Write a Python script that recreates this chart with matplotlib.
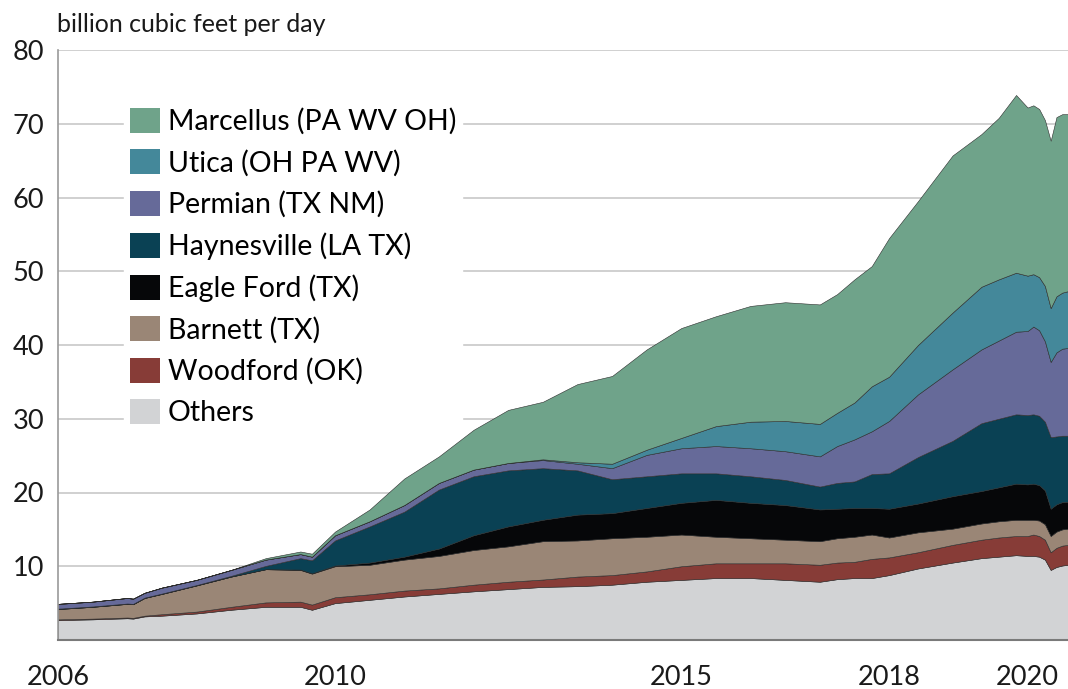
import matplotlib
matplotlib.use("Agg")
import matplotlib.pyplot as plt
import numpy as np

plt.rcParams['font.family'] = ['Lato', 'DejaVu Sans']

months = ['2006-01', '2006-07', '2007-01', '2007-02', '2007-04', '2007-07', '2008-01', '2008-07',
          '2009-01', '2009-07', '2009-09', '2010-01', '2010-07', '2011-01', '2011-07', '2012-01',
          '2012-07', '2013-01', '2013-07', '2014-01', '2014-07', '2015-01', '2015-07', '2016-01',
          '2016-07', '2017-01', '2017-04', '2017-07', '2017-10', '2018-01', '2018-06', '2018-12',
          '2019-05', '2019-08', '2019-11', '2020-01', '2020-02', '2020-03', '2020-04', '2020-05',
          '2020-06', '2020-07', '2020-08']

others =      [2.7, 2.8, 2.95, 2.9, 3.2, 3.3, 3.6, 4.1, 4.5, 4.5, 4.1, 5.0, 5.45, 5.9, 6.25, 6.6,
               6.9, 7.2, 7.3, 7.5, 7.9, 8.15, 8.4, 8.4, 8.15, 7.9, 8.25, 8.4, 8.4, 8.8, 9.7, 10.5,
               11.1, 11.3, 11.5, 11.4, 11.4, 11.3, 10.9, 9.5, 9.9, 10.1, 10.2]
woodford =    [0.1, 0.1, 0.1, 0.1, 0.1, 0.2, 0.25, 0.4, 0.6, 0.7, 0.7, 0.8, 0.75, 0.8, 0.75, 0.9,
               1.0, 1.0, 1.3, 1.3, 1.4, 1.85, 2.0, 2.0, 2.25, 2.3, 2.25, 2.2, 2.6, 2.4, 2.2, 2.4,
               2.5, 2.6, 2.6, 2.7, 2.9, 2.8, 2.7, 2.4, 2.6, 2.7, 2.7]
barnett =     [1.4, 1.6, 1.85, 1.85, 2.4, 2.75, 3.55, 4.1, 4.5, 4.3, 4.2, 4.2, 4.0, 4.2, 4.4, 4.7,
               4.8, 5.2, 4.9, 5.0, 4.7, 4.3, 3.6, 3.4, 3.2, 3.2, 3.3, 3.4, 3.3, 2.7, 2.7, 2.2,
               2.2, 2.2, 2.2, 2.2, 2.0, 2.1, 2.1, 2.2, 2.2, 2.2, 2.2]
eagle_ford =  [0.0, 0.0, 0.0, 0.0, 0.0, 0.0, 0.0, 0.0, 0.0, 0.05, 0.05, 0.1, 0.3, 0.4, 1.0, 2.0,
               2.7, 2.9, 3.5, 3.4, 3.9, 4.3, 5.0, 4.8, 4.7, 4.3, 4.0, 3.9, 3.6, 3.9, 3.9, 4.4,
               4.4, 4.6, 4.9, 4.8, 4.9, 4.8, 4.6, 3.7, 3.7, 3.7, 3.65]
haynesville = [0.05, 0.05, 0.05, 0.05, 0.05, 0.05, 0.05, 0.1, 0.45, 1.55, 1.75, 3.4, 4.9, 6.1, 8.0, 8.0,
               7.6, 7.0, 6.0, 4.6, 4.3, 4.0, 3.6, 3.6, 3.4, 3.1, 3.5, 3.6, 4.6, 4.8, 6.3, 7.5,
               9.2, 9.3, 9.4, 9.4, 9.4, 9.4, 9.3, 9.7, 9.2, 9.0, 8.95]
permian =     [0.65, 0.65, 0.75, 0.7, 0.65, 0.8, 0.7, 0.8, 0.85, 0.55, 0.5, 0.7, 0.7, 0.9, 0.9, 0.9,
               1.0, 1.1, 0.9, 1.5, 2.9, 3.4, 3.7, 3.8, 3.9, 4.1, 5.0, 5.7, 5.8, 7.1, 8.5, 9.7,
               10.0, 10.6, 11.2, 11.4, 11.9, 11.6, 10.9, 10.2, 11.4, 11.8, 11.9]
utica =       [0.0, 0.0, 0.0, 0.0, 0.0, 0.0, 0.0, 0.0, 0.0, 0.0, 0.0, 0.0, 0.0, 0.0, 0.0, 0.0,
               0.0, 0.1, 0.2, 0.6, 0.7, 1.4, 2.7, 3.6, 4.1, 4.4, 4.5, 5.0, 6.1, 6.0, 6.7, 7.7,
               8.5, 8.3, 8.0, 7.5, 7.1, 7.2, 7.5, 7.3, 7.6, 7.6, 7.7]
marcellus =   [0.0, 0.0, 0.0, 0.0, 0.0, 0.0, 0.0, 0.0, 0.2, 0.35, 0.4, 0.5, 1.6, 3.6, 3.6, 5.4,
               7.2, 7.8, 10.6, 11.9, 13.6, 14.9, 14.9, 15.7, 16.1, 16.2, 16.1, 16.7, 16.3, 18.8, 19.5, 21.3,
               20.7, 21.9, 24.1, 22.8, 22.9, 22.8, 22.5, 22.7, 24.3, 24.2, 24.0]

labels = ['Others', 'Woodford (OK)', 'Barnett (TX)', 'Eagle Ford (TX)', 'Haynesville (LA TX)',
          'Permian (TX NM)', 'Utica (OH PA WV)', 'Marcellus (PA WV OH)']
colors = ['#d2d3d5', '#873c37', '#9a8676', '#060709', '#0a4154', '#666a99', '#44889a', '#6fa38a']

year_ticks = [2006, 2010, 2015, 2018, 2020]
y_ticks = [10, 20, 30, 40, 50, 60, 70, 80]

x = np.array([int(m[:4]) + (int(m[5:]) - 1) / 12 for m in months])
series = [others, woodford, barnett, eagle_ford, haynesville, permian, utica, marcellus]

fig = plt.figure(figsize=(10.68, 6.89), dpi=100)
ax = fig.add_axes([58 / 1068, 1 - 640 / 689, 1 - 58 / 1068, (640 - 50) / 689])

polys = ax.stackplot(x, *series, colors=colors, labels=labels,
                     edgecolor='#2b2b2b', linewidth=0.4, zorder=2)

ax.set_xlim(x[0], x[-1])
ax.set_ylim(0, 80)
ax.set_yticks(y_ticks)
ax.set_xticks(year_ticks)
ax.tick_params(axis='both', length=0, labelsize=19.5, colors='#1a1a1a')
ax.tick_params(axis='y', pad=10)
ax.tick_params(axis='x', pad=18)
ax.grid(axis='y', color='#c8c8c8', linewidth=1.2, zorder=0)
ax.set_axisbelow(True)
for s in ['top', 'right']:
    ax.spines[s].set_visible(False)
ax.spines['left'].set_color('#9a9a9a')
ax.spines['bottom'].set_color('#7a7a7a')
ax.spines['left'].set_linewidth(1.2)
ax.spines['bottom'].set_linewidth(1.5)

fig.text(57 / 1068, 1 - 24 / 689, 'billion cubic feet per day', fontsize=18,
         ha='left', va='center', color='#1a1a1a')

handles, labs = ax.get_legend_handles_labels()
leg = ax.legend(handles[::-1], labs[::-1], loc='upper left',
                bbox_to_anchor=(124 / 1068, 1 - 102 / 689), bbox_transform=fig.transFigure,
                fontsize=20.5, frameon=True, framealpha=1, edgecolor='white', fancybox=False,
                handlelength=1.08, handleheight=0.98, handletextpad=0.26,
                labelspacing=0.5, borderpad=0.2, borderaxespad=0)
for h in leg.legend_handles:
    h.set_edgecolor('none')
leg.set_zorder(5)

fig.savefig('out.png', dpi=100)
